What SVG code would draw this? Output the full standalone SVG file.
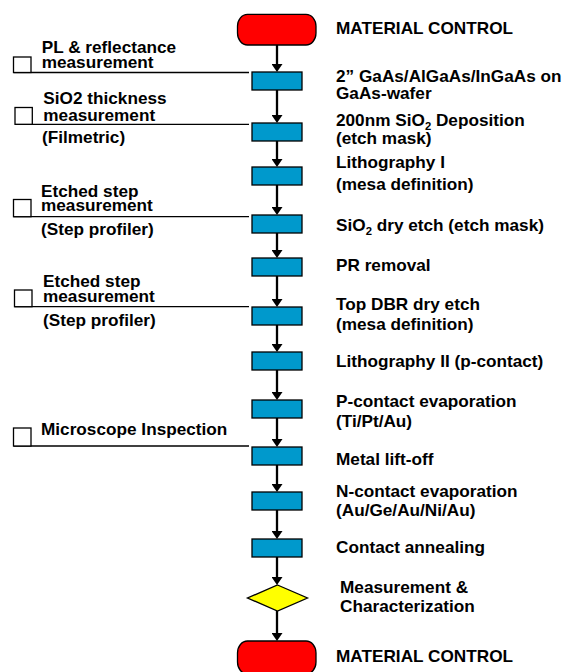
<svg xmlns="http://www.w3.org/2000/svg" width="565" height="672" viewBox="0 0 565 672">
<defs>
<style>
text{font-family:"Liberation Sans",Arial,sans-serif;font-weight:bold;font-size:16px;fill:#000}
.r{transform:scale(1.075,1)}
.sub{font-size:10.5px}
.term{fill:#FF0000;stroke:#000;stroke-width:1.3}
.proc{fill:#0099CC;stroke:#000;stroke-width:1.3}
.dec{fill:#FFFF00;stroke:#000;stroke-width:1.3}
.chk{fill:#fff;stroke:#000;stroke-width:1.3}
.flow{stroke:#000;stroke-width:2.3;fill:none;marker-end:url(#ah)}
.tie{stroke:#000;stroke-width:1.3;fill:none}
</style>
<marker id="ah" viewBox="0 0 8 11" refX="4" refY="5.5" markerWidth="8" markerHeight="11" markerUnits="userSpaceOnUse" orient="auto">
<path d="M0,0 L8,5.5 L0,11 z" fill="#000"/>
</marker>
</defs>
<rect width="565" height="672" fill="#fff"/>

<g id="connectors">
<line class="flow" x1="277" y1="45" x2="277" y2="68"/>
<line class="flow" x1="277" y1="90" x2="277" y2="119"/>
<line class="flow" x1="277" y1="141" x2="277" y2="163"/>
<line class="flow" x1="277" y1="185" x2="277" y2="211"/>
<line class="flow" x1="277" y1="233" x2="277" y2="254"/>
<line class="flow" x1="277" y1="276" x2="277" y2="303"/>
<line class="flow" x1="277" y1="325" x2="277" y2="348"/>
<line class="flow" x1="277" y1="370" x2="277" y2="396"/>
<line class="flow" x1="277" y1="418" x2="277" y2="443"/>
<line class="flow" x1="277" y1="465" x2="277" y2="488"/>
<line class="flow" x1="277" y1="510" x2="277" y2="535"/>
<line class="flow" x1="277" y1="557" x2="277" y2="581"/>
<line class="flow" x1="277" y1="611" x2="277" y2="637"/>
<path class="tie" d="M13.5,72.5 H249"/>
<path class="tie" d="M15,124.3 H249"/>
<path class="tie" d="M13.5,216.7 H249"/>
<path class="tie" d="M14.5,306.7 H249"/>
<path class="tie" d="M13.5,446 H249"/>
</g>

<g id="start">
<rect class="term" x="237.5" y="14.3" width="78.5" height="30.7" rx="10" ry="12"/>
<text class="r" x="312.56" y="34">MATERIAL CONTROL</text>
</g>
<g id="wafer">
<rect class="proc" x="252" y="72" width="50" height="18"/>
<text class="r" x="312.56" y="82">2” GaAs/AlGaAs/InGaAs on</text>
<text class="r" x="312.56" y="99.5">GaAs-wafer</text>
</g>
<g id="sio2-dep">
<rect class="proc" x="252" y="123" width="50" height="18"/>
<text class="r" x="312.56" y="126">200nm SiO<tspan class="sub" dy="4">2</tspan><tspan dy="-4"> Deposition</tspan></text>
<text class="r" x="312.56" y="144">(etch mask)</text>
</g>
<g id="litho1">
<rect class="proc" x="252" y="167" width="50" height="18"/>
<text class="r" x="312.56" y="168">Lithography I</text>
<text class="r" x="312.56" y="190">(mesa definition)</text>
</g>
<g id="sio2-etch">
<rect class="proc" x="252" y="215" width="50" height="18"/>
<text class="r" x="312.56" y="231.5">SiO<tspan class="sub" dy="4">2</tspan><tspan dy="-4"> dry etch (etch mask)</tspan></text>
</g>
<g id="pr-removal">
<rect class="proc" x="252" y="258" width="50" height="18"/>
<text class="r" x="312.56" y="270.7">PR removal</text>
</g>
<g id="dbr-etch">
<rect class="proc" x="252" y="307" width="50" height="18"/>
<text class="r" x="312.56" y="310">Top DBR dry etch</text>
<text class="r" x="312.56" y="330">(mesa definition)</text>
</g>
<g id="litho2">
<rect class="proc" x="252" y="352" width="50" height="18"/>
<text class="r" x="312.56" y="367.3">Lithography II (p-contact)</text>
</g>
<g id="p-contact">
<rect class="proc" x="252" y="400" width="50" height="18"/>
<text class="r" x="312.56" y="406.7">P-contact evaporation</text>
<text class="r" x="312.56" y="427">(Ti/Pt/Au)</text>
</g>
<g id="liftoff">
<rect class="proc" x="252" y="447" width="50" height="18"/>
<text class="r" x="312.56" y="465">Metal lift-off</text>
</g>
<g id="n-contact">
<rect class="proc" x="252" y="492" width="50" height="18"/>
<text class="r" x="312.56" y="497.3">N-contact evaporation</text>
<text class="r" x="312.56" y="516.5">(Au/Ge/Au/Ni/Au)</text>
</g>
<g id="anneal">
<rect class="proc" x="252" y="539" width="50" height="18"/>
<text class="r" x="312.56" y="553.3">Contact annealing</text>
</g>
<g id="measure">
<polygon class="dec" points="277.5,585 307.5,598 277.5,611 247.5,598"/>
<text class="r" x="316.28" y="592.7">Measurement &amp;</text>
<text class="r" x="316.28" y="611.7">Characterization</text>
</g>
<g id="end">
<rect class="term" x="237.5" y="641" width="78.5" height="33" rx="10" ry="12"/>
<text class="r" x="312.56" y="661.7">MATERIAL CONTROL</text>
</g>

<g id="check-pl">
<rect class="chk" x="13.5" y="57" width="17.5" height="15.5"/>
<text class="r" x="38.79" y="53.3">PL &amp; reflectance</text>
<text class="r" x="38.79" y="67.7">measurement</text>
</g>
<g id="check-sio2">
<rect class="chk" x="15" y="107.5" width="17.3" height="16.8"/>
<text class="r" x="40.28" y="104">SiO2 thickness</text>
<text class="r" x="40.28" y="120.7">measurement</text>
<text class="r" x="39.07" y="143.3">(Filmetric)</text>
</g>
<g id="check-step1">
<rect class="chk" x="13.5" y="199.5" width="17.5" height="17.2"/>
<text class="r" x="38.14" y="196.7">Etched step</text>
<text class="r" x="38.14" y="210.7">measurement</text>
<text class="r" x="38.14" y="235.5">(Step profiler)</text>
</g>
<g id="check-step2">
<rect class="chk" x="14.5" y="290" width="17.5" height="16.7"/>
<text class="r" x="40" y="286.7">Etched step</text>
<text class="r" x="40" y="301.7">measurement</text>
<text class="r" x="40" y="326">(Step profiler)</text>
</g>
<g id="check-microscope">
<rect class="chk" x="13.5" y="428" width="17.5" height="18"/>
<text class="r" x="38.14" y="435">Microscope Inspection</text>
</g>
</svg>
